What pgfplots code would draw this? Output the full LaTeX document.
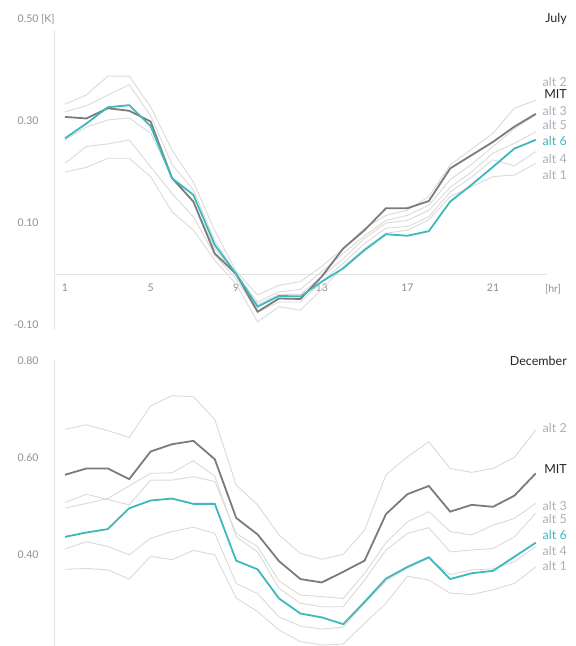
\documentclass[border=0pt]{standalone}
\usepackage{pgfplots}
\usepackage{pgfplotstable}
\pgfplotsset{compat=1.18}
\usepackage{fontspec}
\setmainfont{Lato}

\definecolor{teal6}{HTML}{3FB8BA}
\definecolor{mitline}{HTML}{7B7B7B}
\definecolor{altline}{HTML}{DADADA}
\definecolor{altlab}{HTML}{A9B1B9}
\definecolor{ticklab}{HTML}{8F8F8F}
\definecolor{axisgray}{HTML}{E3E3E3}

% July, hourly
\pgfplotstableread{
h mit a6 a1 a2 a3 a4 a5
1 0.308 0.266 0.200 0.333 0.318 0.217 0.263
2 0.305 0.295 0.209 0.351 0.330 0.250 0.288
3 0.325 0.327 0.227 0.388 0.351 0.255 0.302
4 0.320 0.331 0.227 0.388 0.371 0.263 0.306
5 0.299 0.290 0.191 0.328 0.310 0.210 0.276
6 0.188 0.188 0.122 0.243 0.215 0.158 0.190
7 0.142 0.155 0.086 0.180 0.165 0.112 0.140
8 0.040 0.057 0.027 0.085 0.065 0.037 0.050
9 0.000 0.000 -0.020 0.005 0.000 -0.010 -0.005
10 -0.074 -0.064 -0.094 -0.041 -0.055 -0.075 -0.060
11 -0.048 -0.043 -0.064 -0.022 -0.035 -0.055 -0.040
12 -0.049 -0.044 -0.071 -0.015 -0.030 -0.055 -0.040
13 -0.005 -0.015 -0.030 0.015 0.005 -0.015 -0.005
14 0.050 0.011 0.014 0.050 0.040 0.021 0.030
15 0.086 0.047 0.050 0.090 0.075 0.060 0.070
16 0.129 0.078 0.080 0.115 0.105 0.090 0.100
17 0.129 0.075 0.086 0.125 0.115 0.093 0.105
18 0.143 0.084 0.106 0.152 0.135 0.112 0.125
19 0.207 0.142 0.152 0.214 0.185 0.161 0.170
20 0.233 0.175 0.171 0.245 0.215 0.190 0.200
21 0.259 0.210 0.191 0.276 0.250 0.224 0.237
22 0.289 0.246 0.194 0.325 0.285 0.212 0.256
23 0.314 0.263 0.217 0.341 0.312 0.240 0.279
}\july

% December, hourly
\pgfplotstableread{
h mit a6 a1 a2 a3 a4 a5
1 0.564 0.436 0.369 0.658 0.507 0.411 0.495
2 0.577 0.445 0.371 0.667 0.524 0.426 0.505
3 0.577 0.452 0.368 0.655 0.513 0.416 0.515
4 0.555 0.495 0.349 0.641 0.502 0.399 0.541
5 0.612 0.511 0.396 0.706 0.553 0.433 0.567
6 0.627 0.515 0.389 0.727 0.553 0.447 0.568
7 0.634 0.504 0.408 0.725 0.560 0.456 0.593
8 0.596 0.504 0.399 0.678 0.550 0.443 0.561
9 0.475 0.387 0.310 0.543 0.443 0.340 0.436
10 0.441 0.369 0.282 0.502 0.416 0.319 0.405
11 0.386 0.309 0.244 0.440 0.345 0.271 0.330
12 0.349 0.278 0.220 0.402 0.316 0.252 0.299
13 0.342 0.270 0.213 0.390 0.313 0.246 0.292
14 0.364 0.256 0.215 0.400 0.309 0.250 0.292
15 0.387 0.302 0.258 0.450 0.361 0.299 0.347
16 0.483 0.350 0.299 0.564 0.424 0.345 0.409
17 0.524 0.374 0.355 0.601 0.467 0.372 0.443
18 0.541 0.394 0.347 0.632 0.488 0.392 0.455
19 0.488 0.349 0.320 0.577 0.447 0.358 0.405
20 0.502 0.361 0.317 0.569 0.440 0.368 0.409
21 0.498 0.366 0.327 0.577 0.460 0.370 0.412
22 0.521 0.395 0.340 0.600 0.474 0.385 0.436
23 0.567 0.424 0.374 0.656 0.505 0.416 0.485
}\december

\pgfplotsset{
  panel/.style={
    scale only axis,
    x=21.4pt,
    xmin=0.486, xmax=23.52,
    tick style={draw=none},
    major tick length=0pt,
    ticklabel style={font=\fontsize{10.5}{11}\selectfont, text=ticklab},
    yticklabel style={anchor=east, xshift=-12pt},
    clip=false,
  },
  alt/.style={altline, line width=0.9pt},
}

\begin{document}
\begin{tikzpicture}
\useasboundingbox (0,0) rectangle (576pt,646pt);

% July
\begin{axis}[panel,
  at={(54pt,315.9pt)}, anchor=south west,
  y=510pt, ymin=-0.11, ymax=0.50,
  axis x line=middle, axis y line=left,
  x axis line style={draw=axisgray, line width=0.8pt, -},
  y axis line style={draw=none},
  xtick={1,5,9,13,17,21},
  xticklabels={1,5,9,13,17,21},
  xticklabel style={anchor=north, yshift=-6pt},
  ytick={-0.1,0.1,0.3,0.5},
  yticklabels={-0.10,0.10,0.30,0.50\rlap{ [K]}},
]
\draw[axisgray, line width=0.8pt] (axis cs:0.486,-0.11) -- (axis cs:0.486,0.478);
\addplot[alt] table[x=h, y=a1] {\july};
\addplot[alt] table[x=h, y=a2] {\july};
\addplot[alt] table[x=h, y=a3] {\july};
\addplot[alt] table[x=h, y=a4] {\july};
\addplot[alt] table[x=h, y=a5] {\july};
\addplot[mitline, line width=1.8pt] table[x=h, y=mit] {\july};
\addplot[teal6, line width=1.8pt] table[x=h, y=a6] {\july};
\end{axis}

% December
\begin{axis}[panel,
  at={(54pt,0pt)}, anchor=south west,
  y=485pt, ymin=0.211, ymax=0.80,
  axis x line=none, axis y line=left,
  y axis line style={draw=axisgray, line width=0.8pt, -},
  ytick={0.4,0.6,0.8},
  yticklabels={0.40,0.60,0.80},
]
\addplot[alt] table[x=h, y=a1] {\december};
\addplot[alt] table[x=h, y=a2] {\december};
\addplot[alt] table[x=h, y=a3] {\december};
\addplot[alt] table[x=h, y=a4] {\december};
\addplot[alt] table[x=h, y=a5] {\december};
\addplot[mitline, line width=1.8pt] table[x=h, y=mit] {\december};
\addplot[teal6, line width=1.8pt] table[x=h, y=a6] {\december};
\end{axis}

% titles and series labels
\begin{scope}[every node/.style={anchor=east, inner sep=0pt, font=\fontsize{12.5}{13}\selectfont}]
\node[text=black!85] at (567pt,627pt) {July};
\node[text=black!85] at (567pt,285.5pt) {December};
\node[text=ticklab, anchor=center, font=\fontsize{10.5}{11}\selectfont] at (553pt,357pt) {[hr]};
% July labels
\node[text=altlab] at (567pt,564.3pt) {alt 2};
\node[text=black!85] at (567pt,551.7pt) {MIT};
\node[text=altlab] at (567pt,535.3pt) {alt 3};
\node[text=altlab] at (567pt,520.7pt) {alt 5};
\node[text=teal6] at (567pt,505.3pt) {alt 6};
\node[text=altlab] at (567pt,487.3pt) {alt 4};
\node[text=altlab] at (567pt,471pt) {alt 1};
% December labels
\node[text=altlab] at (567pt,217.7pt) {alt 2};
\node[text=black!85] at (567pt,176.7pt) {MIT};
\node[text=altlab] at (567pt,140pt) {alt 3};
\node[text=altlab] at (567pt,127pt) {alt 5};
\node[text=teal6] at (567pt,111pt) {alt 6};
\node[text=altlab] at (567pt,95.3pt) {alt 4};
\node[text=altlab] at (567pt,80.3pt) {alt 1};
\end{scope}
\end{tikzpicture}
\end{document}
